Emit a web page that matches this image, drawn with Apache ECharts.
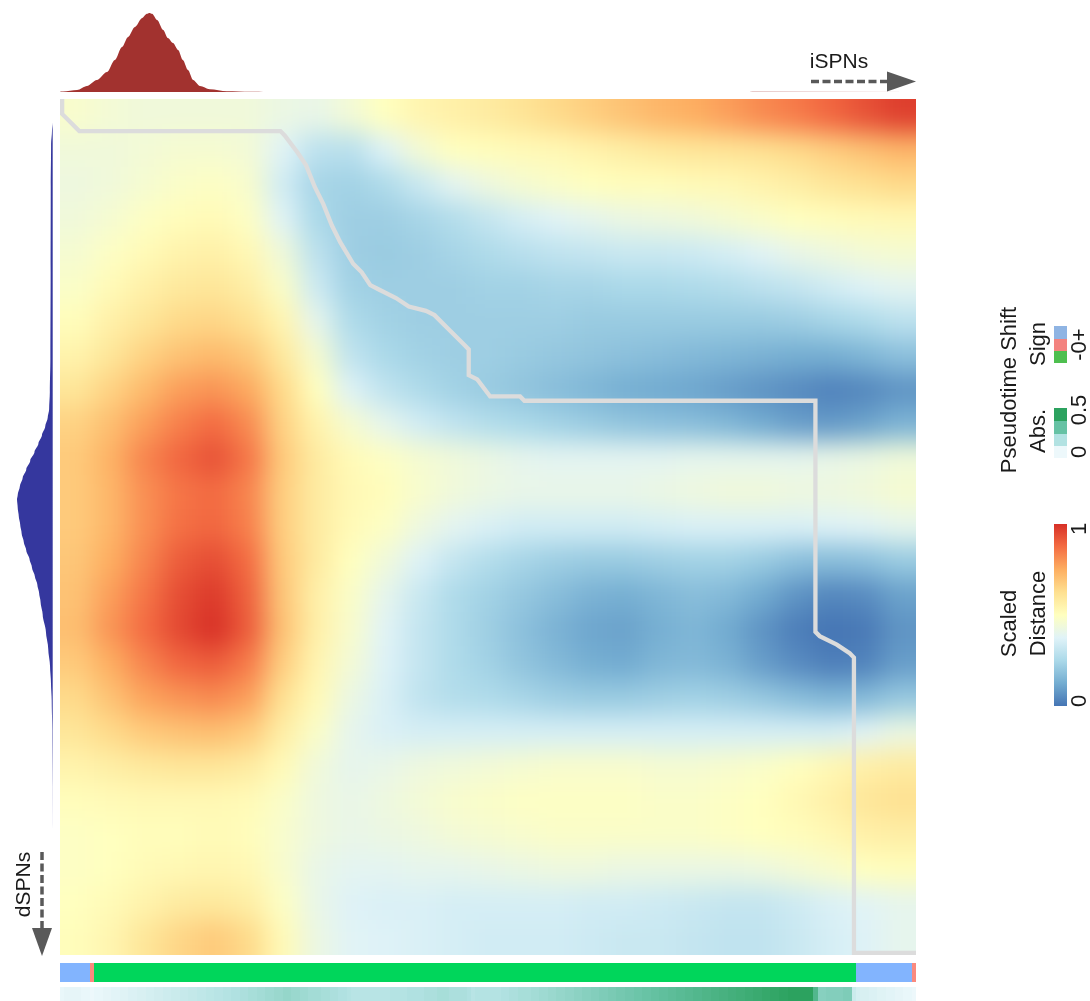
<!DOCTYPE html>
<html>
<head>
<meta charset="utf-8">
<script src="https://cdn.jsdelivr.net/npm/echarts/dist/echarts.min.js"></script>
<style>
  html, body { margin: 0; padding: 0; background: #ffffff; }
  #stage { position: relative; width: 1090px; height: 1001px; overflow: hidden; }
  #hmClip { position: absolute; left: 60px; top: 99px; width: 856px; height: 856px; overflow: hidden; }
  #hm { position: absolute; left: -40px; top: -40px; width: 936px; height: 936px; filter: blur(13px); }
  #main { position: absolute; left: 0; top: 0; width: 1090px; height: 1001px; }
</style>
</head>
<body>
<div id="stage">
  <div id="hmClip"><div id="hm"></div></div>
  <div id="main"></div>
</div>
<script>
// ---------------------------------------------------------------
// Scaled distance between dSPN (rows, top -> bottom) and iSPN
// (columns, left -> right) pseudotime bins, coarse 25 x 25 grid.
// ---------------------------------------------------------------
const scaledDistance = [
  [0.47,0.45,0.44,0.44,0.44,0.44,0.42,0.41,0.45,0.50,0.54,0.56,0.58,0.61,0.64,0.67,0.70,0.73,0.75,0.78,0.82,0.85,0.89,0.93,0.97],
  [0.44,0.44,0.45,0.46,0.46,0.45,0.38,0.29,0.28,0.37,0.45,0.50,0.51,0.52,0.53,0.55,0.57,0.59,0.60,0.61,0.62,0.64,0.67,0.70,0.73],
  [0.43,0.44,0.46,0.48,0.49,0.47,0.34,0.24,0.23,0.26,0.32,0.39,0.43,0.46,0.48,0.50,0.51,0.51,0.52,0.53,0.55,0.57,0.60,0.62,0.64],
  [0.44,0.46,0.49,0.51,0.52,0.49,0.38,0.25,0.22,0.22,0.24,0.27,0.31,0.35,0.38,0.40,0.42,0.43,0.44,0.46,0.48,0.50,0.51,0.52,0.53],
  [0.46,0.49,0.52,0.55,0.56,0.53,0.44,0.29,0.22,0.21,0.22,0.24,0.26,0.28,0.30,0.31,0.32,0.32,0.33,0.35,0.38,0.41,0.43,0.45,0.46],
  [0.48,0.52,0.56,0.59,0.60,0.57,0.48,0.33,0.23,0.22,0.22,0.22,0.23,0.23,0.24,0.24,0.25,0.25,0.26,0.27,0.29,0.31,0.34,0.37,0.39],
  [0.51,0.56,0.60,0.64,0.65,0.62,0.54,0.40,0.26,0.23,0.22,0.22,0.22,0.22,0.22,0.21,0.21,0.21,0.21,0.21,0.21,0.22,0.24,0.26,0.29],
  [0.55,0.60,0.66,0.70,0.72,0.69,0.59,0.46,0.30,0.25,0.23,0.22,0.22,0.21,0.20,0.19,0.18,0.17,0.16,0.15,0.14,0.13,0.13,0.15,0.18],
  [0.60,0.66,0.72,0.78,0.80,0.76,0.64,0.50,0.37,0.30,0.26,0.23,0.21,0.19,0.17,0.15,0.13,0.12,0.11,0.09,0.07,0.05,0.03,0.04,0.07],
  [0.66,0.71,0.78,0.84,0.88,0.82,0.66,0.55,0.46,0.40,0.34,0.30,0.27,0.25,0.23,0.21,0.19,0.18,0.17,0.15,0.12,0.09,0.08,0.10,0.14],
  [0.68,0.74,0.83,0.89,0.93,0.86,0.68,0.58,0.52,0.49,0.46,0.44,0.42,0.40,0.39,0.39,0.39,0.39,0.40,0.40,0.40,0.40,0.41,0.42,0.44],
  [0.68,0.73,0.81,0.86,0.88,0.83,0.67,0.58,0.53,0.51,0.47,0.44,0.42,0.41,0.41,0.41,0.41,0.42,0.43,0.44,0.44,0.43,0.43,0.44,0.46],
  [0.68,0.73,0.81,0.87,0.89,0.84,0.67,0.58,0.52,0.49,0.43,0.39,0.36,0.34,0.34,0.34,0.34,0.35,0.36,0.36,0.36,0.36,0.37,0.38,0.40],
  [0.69,0.75,0.83,0.91,0.94,0.88,0.68,0.58,0.50,0.44,0.37,0.31,0.27,0.24,0.22,0.21,0.21,0.22,0.23,0.23,0.21,0.18,0.17,0.18,0.21],
  [0.70,0.78,0.86,0.94,0.98,0.90,0.69,0.56,0.48,0.40,0.32,0.26,0.23,0.20,0.17,0.14,0.13,0.15,0.17,0.16,0.12,0.07,0.04,0.05,0.10],
  [0.71,0.80,0.88,0.95,1.00,0.91,0.70,0.56,0.47,0.38,0.31,0.26,0.22,0.18,0.14,0.11,0.10,0.13,0.15,0.12,0.07,0.02,0.00,0.01,0.07],
  [0.68,0.75,0.83,0.89,0.91,0.85,0.67,0.54,0.45,0.37,0.31,0.26,0.23,0.19,0.16,0.13,0.12,0.15,0.16,0.14,0.09,0.05,0.02,0.03,0.09],
  [0.64,0.70,0.77,0.80,0.82,0.78,0.62,0.52,0.42,0.36,0.30,0.27,0.26,0.24,0.22,0.21,0.21,0.22,0.23,0.22,0.20,0.17,0.15,0.16,0.20],
  [0.60,0.64,0.68,0.70,0.71,0.68,0.57,0.48,0.40,0.36,0.35,0.35,0.35,0.35,0.35,0.35,0.35,0.35,0.35,0.35,0.35,0.35,0.35,0.38,0.42],
  [0.55,0.57,0.59,0.60,0.60,0.58,0.52,0.44,0.40,0.41,0.43,0.44,0.45,0.46,0.47,0.47,0.47,0.46,0.46,0.47,0.48,0.50,0.53,0.56,0.58],
  [0.51,0.52,0.53,0.53,0.53,0.52,0.48,0.43,0.41,0.43,0.45,0.47,0.48,0.49,0.49,0.49,0.49,0.48,0.48,0.49,0.50,0.53,0.56,0.60,0.62],
  [0.49,0.50,0.51,0.51,0.52,0.51,0.47,0.43,0.41,0.42,0.43,0.45,0.46,0.47,0.48,0.48,0.48,0.48,0.48,0.49,0.50,0.51,0.53,0.56,0.57],
  [0.49,0.50,0.52,0.53,0.54,0.53,0.47,0.41,0.39,0.39,0.40,0.40,0.41,0.42,0.43,0.43,0.42,0.42,0.42,0.42,0.43,0.45,0.47,0.50,0.51],
  [0.50,0.52,0.55,0.58,0.59,0.57,0.49,0.41,0.37,0.36,0.36,0.35,0.35,0.35,0.35,0.34,0.34,0.33,0.32,0.31,0.31,0.33,0.36,0.38,0.40],
  [0.51,0.54,0.60,0.65,0.68,0.64,0.52,0.42,0.38,0.37,0.36,0.35,0.34,0.34,0.34,0.33,0.32,0.32,0.31,0.30,0.30,0.32,0.35,0.37,0.40]
];

// Alignment (warping) path through the 200 x 200 bin matrix: [iSPN bin, dSPN bin] corners
const alignmentPath = [
  [0,0],[0,3],[4,7],[51,7],[52,8],[55,12],[57,15],[59,20],[61,24],[63,29],[65,33],[68,38],
  [70,40],[72,43],[74,44],[78,46],[81,48],[85,49],[87,50],[90,53],[92,55],[94,57],[95,58],
  [95,64],[97,65],[100,69],[107,69],[108,70],[176,70],[176,124],[177,125],[181,127],
  [184,129],[185,130],[185,199],[199,199]
];

// Pseudotime shift of each iSPN bin along the alignment (200 bins)
const pseudotimeShift = [
  0.01,0.02,0.02,0.02,0.02,0.01,0.01,0,-0.01,-0.01,
  -0.02,-0.02,-0.03,-0.03,-0.04,-0.04,-0.05,-0.05,-0.06,-0.06,
  -0.07,-0.07,-0.08,-0.08,-0.09,-0.09,-0.10,-0.10,-0.11,-0.11,
  -0.12,-0.12,-0.13,-0.13,-0.14,-0.14,-0.15,-0.15,-0.16,-0.16,
  -0.17,-0.17,-0.18,-0.18,-0.19,-0.19,-0.20,-0.20,-0.21,-0.21,
  -0.22,-0.22,-0.23,-0.23,-0.22,-0.22,-0.21,-0.21,-0.20,-0.20,
  -0.20,-0.19,-0.19,-0.18,-0.18,-0.17,-0.17,-0.16,-0.15,-0.15,
  -0.15,-0.15,-0.15,-0.15,-0.15,-0.15,-0.15,-0.16,-0.16,-0.16,
  -0.16,-0.17,-0.17,-0.17,-0.17,-0.18,-0.18,-0.18,-0.19,-0.19,
  -0.19,-0.18,-0.18,-0.18,-0.18,-0.17,-0.15,-0.16,-0.16,-0.16,
  -0.16,-0.16,-0.16,-0.17,-0.17,-0.18,-0.18,-0.19,-0.19,-0.19,
  -0.20,-0.20,-0.21,-0.21,-0.22,-0.22,-0.23,-0.23,-0.24,-0.24,
  -0.25,-0.25,-0.26,-0.26,-0.27,-0.27,-0.28,-0.28,-0.29,-0.29,
  -0.30,-0.30,-0.31,-0.31,-0.32,-0.32,-0.33,-0.33,-0.34,-0.34,
  -0.35,-0.35,-0.36,-0.36,-0.37,-0.37,-0.38,-0.38,-0.39,-0.39,
  -0.40,-0.40,-0.41,-0.41,-0.42,-0.42,-0.43,-0.43,-0.44,-0.44,
  -0.45,-0.45,-0.46,-0.46,-0.47,-0.47,-0.48,-0.48,-0.49,-0.49,
  -0.50,-0.50,-0.51,-0.51,-0.52,-0.52,-0.39,-0.26,-0.26,-0.27,
  -0.27,-0.27,-0.27,-0.28,-0.28,-0.10,0.07,0.06,0.06,0.05,
  0.05,0.04,0.04,0.03,0.03,0.02,0.02,0.01,0.01,0
];

// Cell density along iSPN pseudotime: [bin position, relative density]
const ispnDensity = [
  [-0.5,0.004],[0.2,0.006],[3.5,0.025],[5.8,0.076],[8.1,0.152],[10.5,0.253],[12.3,0.405],
  [14,0.57],[15.4,0.696],[17,0.823],[18.7,0.937],[19.8,0.99],[20.4,1.0],[21,0.99],
  [22.2,0.911],[23.6,0.785],[24.7,0.684],[25.9,0.62],[27.1,0.532],[28.2,0.405],[29.4,0.278],
  [30.6,0.152],[32.2,0.076],[34.5,0.036],[38.5,0.01],[43.9,0.003],[48,0],
  [159,0],[162,0.004],[199.5,0.004]
];

// Cell density along dSPN pseudotime: [bin, relative density]
const dspnDensity = [
  [0,0],[5,0],[7,0.02],[10,0.045],[20,0.055],[40,0.058],[60,0.065],[68,0.08],[72,0.1],
  [74,0.14],[76,0.21],[78,0.3],[80,0.4],[82,0.51],[84,0.63],[86,0.74],[88,0.84],[90,0.92],
  [92,0.98],[93,1.0],[95,0.98],[97,0.95],[99,0.91],[101,0.87],[103,0.81],[105,0.74],
  [107,0.65],[109,0.58],[111,0.5],[113,0.43],[115,0.38],[117,0.34],[120,0.28],[124,0.19],
  [128,0.125],[132,0.075],[136,0.048],[140,0.028],[147,0.012],[160,0.003],[170,0],[199,0]
];

// Colour scales
const distancePalette = ['#4575b4','#74add1','#abd9e9','#e0f3f8','#ffffbf','#fee090','#fdae61','#f46d43','#d73027'];
const shiftAbsPalette = ['#edf8fb','#b2e2e2','#66c2a4','#2ca25f'];
const signColors = { neg: '#00d65b', zero: '#fa8a7e', pos: '#82b4fe' };
const signLegendColors = ['#8fb4e3', '#f3837f', '#4ebf4f'];   // +, 0, -

const GRID_N = scaledDistance.length;
const N_BINS = pseudotimeShift.length;
const binLabels = pseudotimeShift.map((_, i) => String(i));
const FONT = '"Liberation Sans", Arial, Helvetica, sans-serif';
const TEXT = '#1a1a1a';

// ---------------- distance matrix (smoothed layer) ----------------
const hmChart = echarts.init(document.getElementById('hm'), null, { renderer: 'canvas' });
const cells = [];
scaledDistance.forEach((row, r) => row.forEach((v, c) => cells.push([c, r, v])));
const EDGE = 40; // border cells stretch under the clipped margin
hmChart.setOption({
  animation: false,
  grid: { left: EDGE, top: EDGE, width: 856, height: 856 },
  xAxis: { type: 'value', min: 0, max: GRID_N, show: false },
  yAxis: { type: 'value', min: 0, max: GRID_N, inverse: true, show: false },
  visualMap: { show: false, type: 'continuous', min: 0, max: 1, dimension: 2,
               seriesIndex: 0, inRange: { color: distancePalette } },
  series: [{
    type: 'custom',
    coordinateSystem: 'cartesian2d',
    encode: { x: 0, y: 1 },
    data: cells,
    renderItem: function (params, api) {
      const c = api.value(0), r = api.value(1);
      const p0 = api.coord([c, r]);
      const p1 = api.coord([c + 1, r + 1]);
      let x0 = p0[0], y0 = p0[1], x1 = p1[0], y1 = p1[1];
      if (c === 0) x0 -= EDGE;
      if (c === GRID_N - 1) x1 += EDGE;
      if (r === 0) y0 -= EDGE;
      if (r === GRID_N - 1) y1 += EDGE;
      return {
        type: 'rect',
        shape: { x: x0 - 0.5, y: y0 - 0.5, width: x1 - x0 + 1, height: y1 - y0 + 1 },
        style: { fill: api.visual('color') }
      };
    }
  }]
});

// ---------------- overlay: path, densities, annotation bars, legends ----------------
function rotText(text, x, y, size, align) {
  return {
    type: 'text', x: x, y: y, rotation: Math.PI / 2, silent: true,
    style: { text: text, x: 0, y: 0, font: size + 'px ' + FONT, fill: TEXT,
             align: align || 'center', textAlign: align || 'center',
             verticalAlign: 'middle', textVerticalAlign: 'middle' }
  };
}
function plainText(text, x, y, size) {
  return {
    type: 'text', x: x, y: y, silent: true,
    style: { text: text, x: 0, y: 0, font: size + 'px ' + FONT, fill: TEXT,
             align: 'center', textAlign: 'center', verticalAlign: 'middle', textVerticalAlign: 'middle' }
  };
}
// one annotation cell per pseudotime bin, snapped to whole pixels so neighbours meet cleanly
function binCell(params, api) {
  const p = api.coord([api.value(0), 0]);
  const w = api.size([1, 0])[0];
  const h = api.size([0, 1])[1];
  const x0 = Math.round(p[0] - w / 2), x1 = Math.round(p[0] + w / 2);
  return {
    type: 'rect',
    shape: { x: x0, y: Math.round(p[1] - h / 2), width: x1 - x0, height: Math.round(h) },
    style: { fill: api.visual('color') }
  };
}
const ARROW = '#595959';
const colorbarStops = distancePalette.map((col, i) => ({
  offset: i / (distancePalette.length - 1),
  color: distancePalette[distancePalette.length - 1 - i]
}));

const graphics = [
  // iSPN direction arrow
  { type: 'line', silent: true, shape: { x1: 811, y1: 81.5, x2: 889, y2: 81.5 },
    style: { stroke: ARROW, lineWidth: 3.5, lineDash: [8, 3.5] } },
  { type: 'polygon', silent: true, shape: { points: [[887, 71.5], [916, 81.5], [887, 91.5]] },
    style: { fill: ARROW } },
  plainText('iSPNs', 839, 62, 21),
  // dSPN direction arrow
  { type: 'line', silent: true, shape: { x1: 42, y1: 852, x2: 42, y2: 930 },
    style: { stroke: ARROW, lineWidth: 3.5, lineDash: [8, 3.5] } },
  { type: 'polygon', silent: true, shape: { points: [[32, 928], [42, 956], [52, 928]] },
    style: { fill: ARROW } },
  rotText('dSPNs', 24.5, 884.5, 21),

  // Pseudotime shift legend
  rotText('Pseudotime Shift', 1010, 390, 22),
  rotText('Sign', 1038.5, 344, 22),
  rotText('Abs.', 1038.5, 431, 22),
  { type: 'rect', silent: true, shape: { x: 1054, y: 326, width: 13, height: 13 }, style: { fill: signLegendColors[0] } },
  { type: 'rect', silent: true, shape: { x: 1054, y: 339, width: 13, height: 12 }, style: { fill: signLegendColors[1] } },
  { type: 'rect', silent: true, shape: { x: 1054, y: 351, width: 13, height: 12 }, style: { fill: signLegendColors[2] } },
  rotText('-0+', 1080, 344.5, 22),
  { type: 'rect', silent: true, shape: { x: 1054, y: 408, width: 13, height: 13 }, style: { fill: shiftAbsPalette[3] } },
  { type: 'rect', silent: true, shape: { x: 1054, y: 421, width: 13, height: 13 }, style: { fill: shiftAbsPalette[2] } },
  { type: 'rect', silent: true, shape: { x: 1054, y: 434, width: 13, height: 12 }, style: { fill: shiftAbsPalette[1] } },
  { type: 'rect', silent: true, shape: { x: 1054, y: 446, width: 13, height: 12 }, style: { fill: shiftAbsPalette[0] } },
  rotText('0.5', 1080, 410, 22),
  rotText('0', 1080, 452, 22),

  // Scaled distance colour bar
  rotText('Scaled', 1010, 623.5, 22),
  rotText('Distance', 1038.5, 613.5, 22),
  { type: 'rect', silent: true, shape: { x: 1054, y: 524, width: 13, height: 182 },
    style: { fill: new echarts.graphic.LinearGradient(0, 0, 0, 1, colorbarStops) } },
  rotText('1', 1080, 529, 22),
  rotText('0', 1080, 701, 22)
];

const main = echarts.init(document.getElementById('main'), null, { renderer: 'canvas' });
main.setOption({
  animation: false,
  backgroundColor: 'transparent',
  grid: [
    { left: 60, top: 99, width: 856, height: 856 },     // alignment path
    { left: 60, top: 13, width: 856, height: 79 },      // iSPN density
    { left: 17, top: 99, width: 35.7, height: 856 },    // dSPN density
    { left: 60, top: 963, width: 856, height: 19 },     // shift sign
    { left: 60, top: 987, width: 856, height: 19 }      // shift magnitude
  ],
  xAxis: [
    { gridIndex: 0, type: 'value', min: -0.5, max: N_BINS - 0.5, show: false },
    { gridIndex: 1, type: 'value', min: -0.5, max: N_BINS - 0.5, show: false },
    { gridIndex: 2, type: 'value', min: 0, max: 1, inverse: true, show: false },
    { gridIndex: 3, type: 'category', data: binLabels, show: false },
    { gridIndex: 4, type: 'category', data: binLabels, show: false }
  ],
  yAxis: [
    { gridIndex: 0, type: 'value', min: -0.5, max: N_BINS - 0.5, inverse: true, show: false },
    { gridIndex: 1, type: 'value', min: 0, max: 1, show: false },
    { gridIndex: 2, type: 'category', data: binLabels, inverse: true, show: false },
    { gridIndex: 3, type: 'category', data: ['sign'], show: false },
    { gridIndex: 4, type: 'category', data: ['abs'], show: false }
  ],
  visualMap: [
    { type: 'piecewise', show: false, seriesIndex: 3, dimension: 2,
      pieces: [
        { lt: 0, color: signColors.neg },
        { value: 0, color: signColors.zero },
        { gt: 0, color: signColors.pos }
      ] },
    { type: 'continuous', show: false, seriesIndex: 4, dimension: 2, min: 0, max: 0.5,
      inRange: { color: shiftAbsPalette } }
  ],
  series: [
    { type: 'line', xAxisIndex: 0, yAxisIndex: 0, data: alignmentPath,
      showSymbol: false, silent: true, clip: false,
      lineStyle: { color: '#dcdcdc', width: 4.3, cap: 'square', join: 'miter' } },
    { type: 'line', xAxisIndex: 1, yAxisIndex: 1, data: ispnDensity,
      showSymbol: false, silent: true, smooth: 0.3, smoothMonotone: 'x',
      lineStyle: { width: 0, opacity: 0 },
      areaStyle: { color: '#a2322f', opacity: 1 } },
    { type: 'line', xAxisIndex: 2, yAxisIndex: 2,
      data: dspnDensity.map(d => [d[1], d[0]]),
      showSymbol: false, silent: true, smooth: 0.3, smoothMonotone: 'y',
      lineStyle: { width: 0, opacity: 0 },
      areaStyle: { color: '#35379e', opacity: 1 } },
    { type: 'custom', xAxisIndex: 3, yAxisIndex: 3, silent: true,
      encode: { x: 0, y: 1 }, renderItem: binCell,
      data: pseudotimeShift.map((v, c) => [c, 0, v]) },
    { type: 'custom', xAxisIndex: 4, yAxisIndex: 4, silent: true,
      encode: { x: 0, y: 1 }, renderItem: binCell,
      data: pseudotimeShift.map((v, c) => [c, 0, Math.abs(v)]) }
  ],
  graphic: graphics
});
</script>
</body>
</html>
